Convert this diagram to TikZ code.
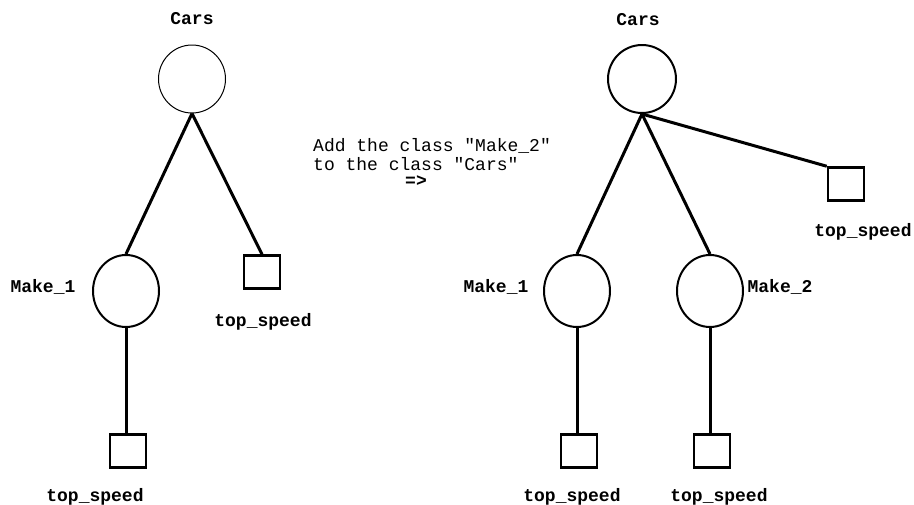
\documentclass[tikz,border=0pt]{standalone}
\usepackage{fontspec}
\setmonofont{Liberation Mono}
\usetikzlibrary{shapes.geometric}
\begin{document}
\begin{tikzpicture}[x=1pt,y=-1pt,
  cls/.style={ellipse, draw, line width=2pt, minimum width=66pt, minimum height=72pt, inner sep=0pt},
  attr/.style={rectangle, draw, line width=2.5pt, minimum width=36pt, minimum height=33pt, inner sep=0pt},
  lbl/.style={inner sep=0pt, font=\ttfamily\bfseries\fontsize{18}{20}\selectfont},
  note/.style={inner sep=0pt, anchor=west, font=\ttfamily\fontsize{18}{20}\selectfont},
  link/.style={line width=3pt}]
\useasboundingbox (0,0) rectangle (914,504);
% left tree
\node[cls, line width=1pt, minimum width=67pt, minimum height=68pt] (carsL) at (192,79) {};
\node[lbl] (carsLt) at (192,19) {Cars};
\node[cls] (m1L) at (126,291) {};
\node[lbl] (m1Lt) at (43,287) {Make\_1};
\node[attr] (tsL) at (262,272) {};
\node[lbl] (tsLt) at (263,322) {top\_speed};
\node[attr] (ts1L) at (128,451) {};
\node[lbl] (ts1Lt) at (95,497) {top\_speed};
\draw[link] (carsL.south) -- (m1L.north);
\draw[link] (carsL.south) -- (tsL.north);
\draw[link] (m1L.south) -- (m1L.south |- ts1L.north);
% middle text
\node[note] (n1) at (313,146) {Add the class "Make\_2"};
\node[note] (n2) at (313,164) {to the class "Cars"};
\node[lbl] (n3) at (416,181) {=>};
% right tree
\node[cls, minimum width=68pt, minimum height=68pt] (carsR) at (642,79) {};
\node[lbl] (carsRt) at (638,20) {Cars};
\node[attr] (tsR) at (846,184) {};
\node[lbl] (tsRt) at (863,232) {top\_speed};
\node[cls] (m1R) at (577,291) {};
\node[lbl] (m1Rt) at (496,287) {Make\_1};
\node[cls] (m2R) at (710,291) {};
\node[lbl] (m2Rt) at (780,287) {Make\_2};
\node[attr] (ts1R) at (579,451) {};
\node[lbl] (ts1Rt) at (572,497) {top\_speed};
\node[attr] (ts2R) at (712,451) {};
\node[lbl] (ts2Rt) at (719,497) {top\_speed};
\draw[link] (carsR.south) -- (m1R.north);
\draw[link] (carsR.south) -- (m2R.north);
\draw[link] (carsR.south) -- (tsR.north west);
\draw[link] (m1R.south) -- (m1R.south |- ts1R.north);
\draw[link] (m2R.south) -- (m2R.south |- ts2R.north);
\end{tikzpicture}
\end{document}
